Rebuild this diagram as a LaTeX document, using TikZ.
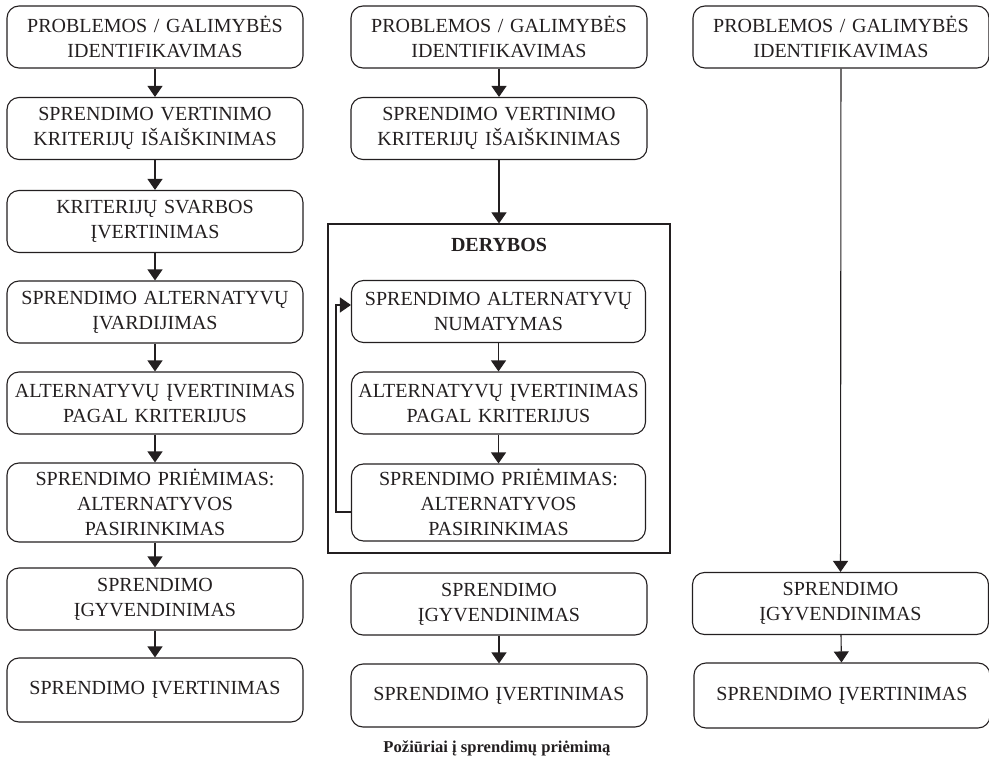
\documentclass[tikz,border=0pt]{standalone}
\usepackage{fontspec}
\setmainfont{Liberation Serif}
\usetikzlibrary{arrows.meta}
\definecolor{ink}{HTML}{231F20}
\begin{document}
\begin{tikzpicture}[x=1pt,y=-1pt,
  box/.style={draw=ink, line width=1.1pt, rounded corners=12pt, minimum width=296pt, minimum height=62pt,
    text width=290pt, align=center, inner sep=0pt, text=ink, font=\fontsize{20}{25}\selectfont},
  arr/.style={draw=ink, line width=1.1pt, -{Triangle[width=15pt,length=11pt]}}]
\useasboundingbox (0,0) rectangle (989,765);
% column 1
\node[box] (a1) at (155,37) {PROBLEMOS / GALIMYBĖS\\IDENTIFIKAVIMAS};
\node[box] (a2) at (155,128.5) {SPRENDIMO VERTINIMO\\KRITERIJŲ IŠAIŠKINIMAS};
\node[box] (a3) at (155,221.5) {KRITERIJŲ SVARBOS\\ĮVERTINIMAS};
\node[box] (a4) at (155,312) {SPRENDIMO ALTERNATYVŲ\\ĮVARDIJIMAS};
\node[box] (a5) at (155,403) {ALTERNATYVŲ ĮVERTINIMAS\\PAGAL KRITERIJUS};
\node[box, minimum height=79pt] (a6) at (155,502.5) {SPRENDIMO PRIĖMIMAS:\\ALTERNATYVOS\\PASIRINKIMAS};
\node[box] (a7) at (155,599) {SPRENDIMO\\ĮGYVENDINIMAS};
\node[box, minimum height=64pt] (a8) at (155,690) {SPRENDIMO ĮVERTINIMAS};
\foreach \i/\j in {a1/a2,a2/a3,a3/a4,a4/a5,a5/a6,a6/a7,a7/a8} \draw[arr] (\i) -- (\j);
% column 2
\node[box] (b1) at (499,37) {PROBLEMOS / GALIMYBĖS\\IDENTIFIKAVIMAS};
\node[box] (b2) at (499,128.5) {SPRENDIMO VERTINIMO\\KRITERIJŲ IŠAIŠKINIMAS};
\node[draw=ink, line width=1.1pt, minimum width=342pt, minimum height=329pt, inner sep=0pt] (der) at (499,388.5) {};
\node[text=ink, font=\fontsize{20}{25}\selectfont\bfseries] (dlab) at (499,245) {DERYBOS};
\node[box, minimum width=294pt] (c1) at (498.5,311.5) {SPRENDIMO ALTERNATYVŲ\\NUMATYMAS};
\node[box, minimum width=294pt] (c2) at (498.5,403) {ALTERNATYVŲ ĮVERTINIMAS\\PAGAL KRITERIJUS};
\node[box, minimum width=294pt, minimum height=77pt] (c3) at (498.5,502.5) {SPRENDIMO PRIĖMIMAS:\\ALTERNATYVOS\\PASIRINKIMAS};
\node[box] (b4) at (499,604) {SPRENDIMO\\ĮGYVENDINIMAS};
\node[box, minimum height=63pt] (b5) at (499,695.5) {SPRENDIMO ĮVERTINIMAS};
\draw[arr] (b1) -- (b2);
\draw[arr] (b2) -- (der);
\draw[arr] (c1) -- (c2);
\draw[arr] (c2) -- (c3);
\draw[arr] (b4) -- (b5);
\draw[arr] ([yshift=-9.5pt]c3.west) -- ++(-15,0) |- ([yshift=6.5pt]c1.west);
% column 3
\node[box] (d1) at (841,37) {PROBLEMOS / GALIMYBĖS\\IDENTIFIKAVIMAS};
\node[box] (d2) at (840.5,603.5) {SPRENDIMO\\ĮGYVENDINIMAS};
\node[box, minimum height=65pt] (d3) at (842,695.5) {SPRENDIMO ĮVERTINIMAS};
\draw[arr] (d1) -- (d2);
\draw[arr] (d2) -- (d3);
% caption
\node[text=ink, font=\fontsize{16.6}{20}\selectfont\bfseries] (cap) at (497,748) {Požiūriai į sprendimų priėmimą};
\end{tikzpicture}
\end{document}
